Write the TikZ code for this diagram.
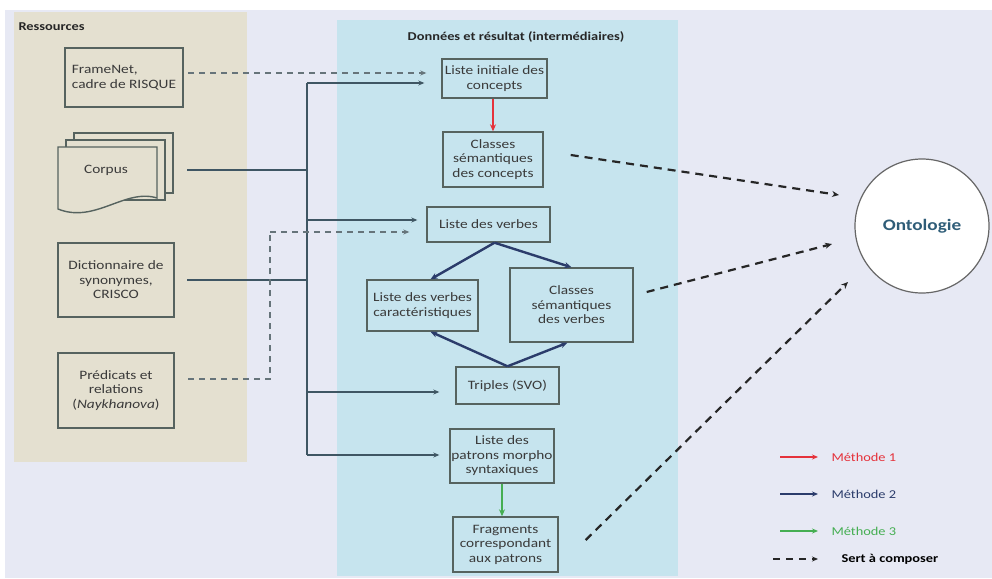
\documentclass[tikz,border=0pt]{standalone}
\usepackage{fontspec}
\setmainfont{Carlito}[FakeStretch=1.2]
\usetikzlibrary{arrows.meta,calc}
\definecolor{bgl}{HTML}{E7E9F4}
\definecolor{beige}{HTML}{E4E0D0}
\definecolor{pblue}{HTML}{C6E4EE}
\definecolor{boxline}{HTML}{56635F}
\definecolor{trunkc}{HTML}{3F5663}
\definecolor{dashg}{HTML}{66747A}
\definecolor{txtc}{HTML}{3A3A3A}
\definecolor{mred}{HTML}{E5323B}
\definecolor{mnavy}{HTML}{2B3C6B}
\definecolor{mgreen}{HTML}{45AE52}
\definecolor{ontoc}{HTML}{2F5D78}
\begin{document}
\begin{tikzpicture}[x=1pt,y=-1pt,
  box/.style={draw=boxline,line width=1.4pt,inner sep=1pt,align=center,text=txtc,
    font=\fontsize{12.8}{14.5}\selectfont},
  page/.style={draw=boxline,line width=1.4pt,fill=beige},
  ttl/.style={font=\fontsize{12}{14}\selectfont\bfseries,text=black!85},
  trunk/.style={draw=trunkc,line width=1.8pt},
  trunkarr/.style={trunk,-{Stealth[length=6pt,width=5pt]}},
  gdash/.style={draw=dashg,line width=1.8pt,dash pattern=on 6pt off 5pt},
  gdasharr/.style={gdash,-{Stealth[length=6pt,width=5pt]}},
  odash/.style={draw=black!85,line width=2.2pt,dash pattern=on 8pt off 6pt,-{Stealth[length=7pt,width=6pt]}},
  marr/.style={line width=2.4pt,-{Stealth[length=7pt,width=6pt]}},
  legtxt/.style={anchor=west,font=\fontsize{12}{14}\selectfont}
]
\useasboundingbox (0,0) rectangle (992,578);
\fill[white] (0,0) rectangle (992,578);
\fill[bgl] (5,10) rectangle (992,578);
\fill[beige] (14,12) rectangle (247,462);
\fill[pblue] (337,20) rectangle (678,576);

\node[ttl,anchor=west] (tres) at (15,27) {Ressources};
\node[ttl] (tdon) at (516,37) {Données et résultat (intermédiaires)};

% resources
\node[box,minimum width=118pt,minimum height=59pt,align=left] (fn) at (124,77.5) {FrameNet,\\cadre de RISQUE};
\draw[page] (74,133) rectangle (173,193);
\draw[page] (66,140) rectangle (165,200);
\draw[page] (58,147) -- (157,147) -- (157,198) .. controls (125,188) and (95,224) .. (58,209) -- cycle;
\node[box,draw=none] (corpus) at (106,170) {Corpus};
\node[box,minimum width=116pt,minimum height=74pt] (dict) at (116,280) {Dictionnaire de\\synonymes,\\CRISCO};
\node[box,minimum width=116pt,minimum height=75pt] (pred) at (116,390.5) {Prédicats et\\relations\\(\textit{Naykhanova})};

% data boxes
\node[box,minimum width=105pt,minimum height=39pt] (lic) at (494.5,78.5) {Liste initiale des\\concepts};
\node[box,minimum width=100pt,minimum height=55pt] (csc) at (493,159.5) {Classes\\sémantiques\\des concepts};
\node[box,minimum width=123pt,minimum height=35pt] (ldv) at (488.5,224.5) {Liste des verbes};
\node[box,minimum width=111pt,minimum height=51pt] (lvc) at (422.5,305.5) {Liste des verbes\\caractéristiques};
\node[box,minimum width=123pt,minimum height=74pt] (csv) at (571.5,305) {Classes\\sémantiques\\des verbes};
\node[box,minimum width=103pt,minimum height=37pt] (tri) at (507.5,385.5) {Triples (SVO)};
\node[box,minimum width=104pt,minimum height=54pt] (lpm) at (502,456) {Liste des\\patrons morpho\\syntaxiques};
\node[box,minimum width=105pt,minimum height=55pt] (frag) at (505.5,544.5) {Fragments\\correspondant\\aux patrons};

\node[circle,draw=black!60,line width=1.2pt,fill=white,minimum size=134pt,
  font=\fontsize{16}{18}\selectfont\bfseries,text=ontoc] (onto) at (922,226) {Ontologie};

% trunk
\coordinate (tTop) at (307,83);
\coordinate (tV) at (307,220);
\coordinate (tT) at (307,392);
\coordinate (tBot) at (307,455);
\coordinate (corpR) at (187,170);
\coordinate (dictR) at (187,280);
\draw[trunk] (tTop) -- (tBot);
\draw[trunk] (corpR) -- (corpR -| tTop);
\draw[trunk] (dictR) -- (dictR -| tTop);
\draw[trunkarr,shorten >=17pt] (tTop) -- (tTop -| lic.west);
\draw[trunkarr,shorten >=9pt] (tV) -- (tV -| ldv.west);
\draw[trunkarr,shorten >=16pt] (tT) -- (tT -| tri.west);
\draw[trunkarr,shorten >=10pt] (tBot) -- (tBot -| lpm.west);

% dashed resource links
\coordinate (fnA) at (188,73);
\coordinate (predA) at (188,379);
\coordinate (vd) at (270,232);
\draw[gdasharr,shorten >=15pt] (fnA) -- (fnA -| lic.west);
\draw[gdash] (predA) -| (vd);
\draw[gdasharr,shorten >=17pt] (vd) -- (vd -| ldv.west);

% methods
\draw[marr,draw=mred] (csc.north |- lic.south) -- (csc.north);
\draw[marr,draw=mgreen] (lpm.south) -- (lpm.south |- frag.north);
\coordinate (ldvS) at ($(ldv.south)+(6,0)$);
\draw[marr,draw=mnavy] (ldvS) -- ($(lvc.north)+(8,0)$);
\draw[marr,draw=mnavy] (ldvS) -- (csv.north);
\draw[marr,draw=mnavy] (tri.north) -- ($(lvc.south)+(8,0)$);
\draw[marr,draw=mnavy] (tri.north) -- ($(csv.south)+(-4,0)$);

% to ontology
\draw[odash] ($(csc.east)+(27,-4.5)$) -- ($(onto.center)+(-83,-31)$);
\draw[odash] ($(csv.east)+(13,-13)$) -- ($(onto.center)+(-90,18)$);
\draw[odash] ($(frag.east)+(27,-4.5)$) -- ($(onto.center)+(-74,56)$);

% legend
\coordinate (l1a) at (780,457); \coordinate (l1b) at (818,457);
\coordinate (l2a) at (780,494); \coordinate (l2b) at (818,494);
\coordinate (l3a) at (780,531); \coordinate (l3b) at (818,531);
\coordinate (l4a) at (773,559); \coordinate (l4b) at (818,559);
\draw[line width=2.2pt,draw=mred,-{Stealth[length=6pt,width=5pt]}] (l1a) -- (l1b);
\draw[line width=2.2pt,draw=mnavy,-{Stealth[length=6pt,width=5pt]}] (l2a) -- (l2b);
\draw[line width=2.2pt,draw=mgreen,-{Stealth[length=6pt,width=5pt]}] (l3a) -- (l3b);
\draw[line width=2.2pt,draw=black!85,dash pattern=on 7pt off 6pt,-{Stealth[length=6pt,width=5pt]}] (l4a) -- (l4b);
\node[legtxt,text=mred] (lt1) at (828,457) {Méthode 1};
\node[legtxt,text=mnavy] (lt2) at (828,494) {Méthode 2};
\node[legtxt,text=mgreen] (lt3) at (828,531) {Méthode 3};
\node[legtxt,font=\fontsize{12}{14}\selectfont\bfseries] (lt4) at (838,559) {Sert à composer};
\end{tikzpicture}
\end{document}
